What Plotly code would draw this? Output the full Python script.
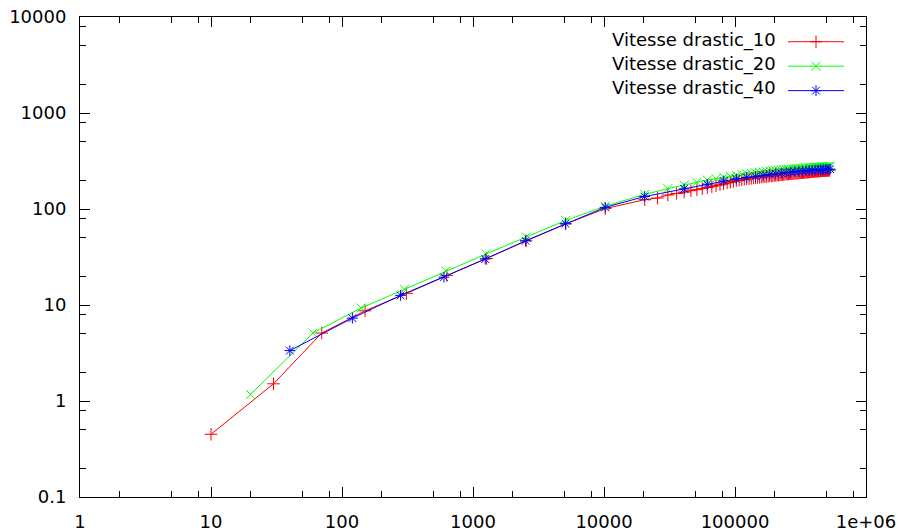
import plotly.graph_objects as go

# ---------------- data ----------------
labels = ["Vitesse drastic_10", "Vitesse drastic_20", "Vitesse drastic_40"]

x_10 = [10, 30, 70, 150, 310, 630, 1270, 2550, 5110, 10230, 20470,
        25590, 30710, 35830, 40950, 46070, 51190, 56310, 61430, 66550, 71670,
        76790, 81910, 87030, 92150, 97270, 102390, 107510, 112630, 117750, 122870,
        127990, 133110, 138230, 143350, 148470, 153590, 158710, 163830, 168950, 174070,
        179190, 184310, 189430, 194550, 199670, 204790, 209910, 215030, 220150, 225270,
        230390, 235510, 240630, 245750, 250870, 255990, 261110, 266230, 271350, 276470,
        281590, 286710, 291830, 296950, 302070, 307190, 312310, 317430, 322550, 327670,
        332790, 337910, 343030, 348150, 353270, 358390, 363510, 368630, 373750, 378870,
        383990, 389110, 394230, 399350, 404470, 409590, 414710, 419830, 424950, 430070,
        435190, 440310, 445430, 450550, 455670, 460790, 465910, 471030, 476150, 481270,
        486390, 491510, 496630, 501750, 506870, 511990, 517110, 522230, 527350]
y_10 = [0.45, 1.51, 5.1, 8.7, 13.2, 20.3, 30.5, 46.5, 70, 101, 125,
        130, 140, 145, 150, 155, 159, 163, 167, 171, 175,
        179, 183, 187, 190, 194, 197, 199.5, 202, 204, 206,
        207.5, 209, 210.5, 212, 213, 214, 215.5, 216.5, 217.5, 218.5,
        219.5, 220.5, 221.5, 222.5, 223.5, 224.5, 225.5, 226, 227, 228,
        228.5, 229, 230, 230.5, 231, 232, 232.5, 233, 233.5, 234,
        234.5, 235, 236, 236.5, 237, 237.5, 238, 238.5, 239, 239.5,
        240, 240.5, 241, 241.5, 242, 242.5, 243, 243.5, 244, 244.5,
        245, 245.5, 245.5, 246, 246.5, 247, 247.5, 247.5, 248, 248.5,
        248.5, 249, 249.5, 249.5, 250, 250, 250.5, 251, 251, 251.5,
        251.5, 252, 252, 252.5, 252.5, 253, 253, 253.5, 254]

x_20 = [20, 60, 140, 300, 620, 1260, 2540, 5100, 10220, 20460,
        30700, 40940, 51180, 61420, 71660, 81900, 92140, 102380, 112620, 122860,
        133100, 143340, 153580, 163820, 174060, 184300, 194540, 204780, 215020, 225260,
        235500, 245740, 255980, 266220, 276460, 286700, 296940, 307180, 317420, 327660,
        337900, 348140, 358380, 368620, 378860, 389100, 399340, 409580, 419820, 430060,
        440300, 450540, 460780, 471020, 481260, 491500, 501740, 511980, 522220, 532460]
y_20 = [1.17, 5.1, 9.3, 14.6, 22.6, 34, 51, 76, 107, 142,
        163, 178, 190, 200, 207, 214, 219, 224, 228, 232,
        235, 238, 241, 243.5, 246, 248, 250, 252, 253.5, 255,
        256.5, 258, 259, 260, 261, 262, 263, 264, 265, 266,
        267, 267.5, 268, 269, 269.5, 270, 271, 271.5, 272, 272.5,
        273, 273.5, 274, 274.5, 275, 275.5, 276, 276.5, 277, 277.5]

x_40 = [40, 120, 280, 600, 1240, 2520, 5080, 10200, 20440, 40920,
        61400, 81880, 102360, 122840, 143320, 163800, 184280, 204760, 225240, 245720,
        266200, 286680, 307160, 327640, 348120, 368600, 389080, 409560, 430040, 450520,
        471000, 491480, 511960, 532440]
y_40 = [3.35, 7.3, 12.6, 19.5, 30.1, 46.7, 70.3, 104, 135, 162,
        181, 196, 206, 213, 219, 224, 229, 233, 236, 239,
        242, 244, 246, 248, 250, 251, 253, 254, 255, 256,
        257, 258, 259, 260]

x_tick_vals = [1, 10, 100, 1000, 10000, 100000, 1000000]
x_tick_text = ["1", "10", "100", "1000", "10000", "100000", "1e+06"]
y_tick_vals = [0.1, 1, 10, 100, 1000, 10000]
y_tick_text = ["0.1", "1", "10", "100", "1000", "10000"]
minor_mults = [2, 5, 8]

assert len(x_10) == len(y_10) and len(x_20) == len(y_20) and len(x_40) == len(y_40)

# ---------------- styling ----------------
FONT = "DejaVu Sans"
colors = ["#ff0000", "#00ff00", "#0000ff"]
symbols = ["cross-thin", "x-thin", "asterisk"]

series = [(x_10, y_10), (x_20, y_20), (x_40, y_40)]

fig = go.Figure()
for (xs, ys), lab, col, sym in zip(series, labels, colors, symbols):
    fig.add_trace(go.Scatter(
        x=xs, y=ys, mode="lines+markers", name="",
        line=dict(color=col, width=1),
        marker=dict(symbol=sym, size=9, color=col, line=dict(color=col, width=1)),
        hovertemplate=lab + "<br>%{x}: %{y}<extra></extra>",
        showlegend=True,
    ))

x_minor = [m * 10 ** e for e in range(0, 6) for m in minor_mults]
y_minor = [m * 10 ** e for e in range(-1, 4) for m in minor_mults]

axis_common = dict(
    type="log", showgrid=False, zeroline=False, automargin=False,
    showline=True, linecolor="black", linewidth=1, mirror="ticks",
    ticks="inside", ticklen=10, tickwidth=1, tickcolor="black",
    tickmode="array", ticklabeloverflow="allow",
    tickfont=dict(family=FONT, size=18, color="black"),
)

fig.update_layout(
    width=904, height=531,
    margin=dict(l=80, r=38, t=17, b=34, autoexpand=False),
    paper_bgcolor="white", plot_bgcolor="white",
    font=dict(family=FONT, size=18, color="black"),
    xaxis=dict(axis_common, range=[0, 6], tickvals=x_tick_vals, ticktext=x_tick_text,
               ticklabelstandoff=8,
               minor=dict(tickmode="array", tickvals=x_minor, ticks="inside",
                          ticklen=6, tickwidth=1, tickcolor="black", showgrid=False)),
    yaxis=dict(axis_common, range=[-1, 4], tickvals=y_tick_vals, ticktext=y_tick_text,
               ticklabelstandoff=9,
               minor=dict(tickmode="array", tickvals=y_minor, ticks="inside",
                          ticklen=6, tickwidth=1, tickcolor="black", showgrid=False)),
    legend=dict(x=(783 - 80) / 786, xanchor="left", y=(497 - 24.5) / 480, yanchor="top",
                bgcolor="rgba(0,0,0,0)", borderwidth=0,
                font=dict(family=FONT, size=16.5), itemwidth=56,
                itemclick=False, itemdoubleclick=False),
    showlegend=True,
)

legend_rows_y = [39.5, 63.5, 88]
for lab, ypx in zip(labels, legend_rows_y):
    fig.add_annotation(
        text=lab, xref="paper", yref="paper",
        x=(778 - 80) / 786, y=(497 - ypx) / 480,
        xanchor="right", yanchor="middle", showarrow=False,
        font=dict(family=FONT, size=18, color="black"),
    )

# remove the browser's default 8px body margin so the figure fills the window
fig.write_html("out.html",
               config={"displayModeBar": False},
               post_script="document.body.style.margin='0';document.body.style.overflow='hidden';")
